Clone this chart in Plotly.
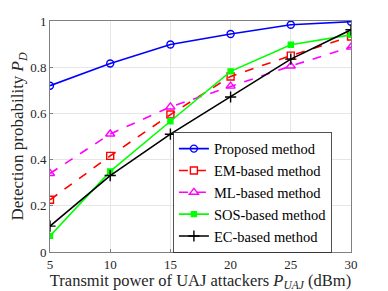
import plotly.graph_objects as go

x_power = [5, 10, 15, 20, 25, 30]
proposed = [0.72, 0.816, 0.898, 0.944, 0.984, 0.997]
em_based = [0.226, 0.416, 0.595, 0.76, 0.85, 0.933]
ml_based = [0.34, 0.511, 0.628, 0.718, 0.805, 0.887]
sos_based = [0.07, 0.349, 0.566, 0.782, 0.897, 0.94]
ec_based = [0.112, 0.331, 0.51, 0.671, 0.835, 0.962]

names = ["Proposed method", "EM-based method", "ML-based method", "SOS-based method", "EC-based method"]
series = [proposed, em_based, ml_based, sos_based, ec_based]
colors = ["#0000ff", "#ff0000", "#ff00ff", "#00ff00", "#000000"]
dashes = ["solid", "dash", "dash", "solid", "solid"]
symbols = ["circle-open", "square-open", "triangle-up-open", "square", "cross-thin-open"]
msizes = [7, 7, 8, 5, 8]

fig = go.Figure()
for n, s, c, d, sym, ms in zip(names, series, colors, dashes, symbols, msizes):
    fig.add_trace(go.Scatter(
        x=x_power, y=s, name=n, mode="lines+markers",
        line=dict(color=c, width=1.6, dash=d),
        marker=dict(symbol=sym, size=ms, color=c, line=dict(color=c, width=1.4)),
    ))

font = "Liberation Serif, Times New Roman, serif"
fig.update_layout(
    width=380, height=283,
    margin=dict(l=42, r=37, t=13, b=39, autoexpand=False),
    paper_bgcolor="white", plot_bgcolor="white",
    font=dict(family=font, size=14, color="#262626"),
    showlegend=True,
    legend=dict(
        x=0.409, y=0.52, xanchor="left", yanchor="top",
        bgcolor="white", bordercolor="#262626", borderwidth=0.8,
        font=dict(family=font, size=14.5, color="#000"),
        tracegroupgap=0, itemwidth=30,
    ),
    xaxis=dict(
        range=[5, 30], tickvals=[5, 10, 15, 20, 25, 30],
        showgrid=True, gridcolor="#e6e6e6", gridwidth=1,
        showline=True, linecolor="#808080", linewidth=1, mirror=True,
        ticks="inside", ticklen=3, tickcolor="#808080",
        zeroline=False, automargin=False,
        title=dict(text="Transmit power of UAJ attackers <i>P</i><sub><i>UAJ</i></sub> (dBm)", standoff=0,
                   font=dict(size=16.5)),
        tickfont=dict(size=13),
    ),
    yaxis=dict(
        range=[0, 1], tickvals=[0, 0.2, 0.4, 0.6, 0.8, 1], ticktext=["0", "0.2", "0.4", "0.6", "0.8", "1"],
        showgrid=True, gridcolor="#e6e6e6", gridwidth=1,
        showline=True, linecolor="#808080", linewidth=1, mirror=True,
        ticks="inside", ticklen=3, tickcolor="#808080",
        zeroline=False, automargin=False,
        title=dict(text="Detection probability <i>P</i><sub><i>D</i></sub>", standoff=2,
                   font=dict(size=17)),
        tickfont=dict(size=13),
    ),
)
fig.write_html("out.html")
